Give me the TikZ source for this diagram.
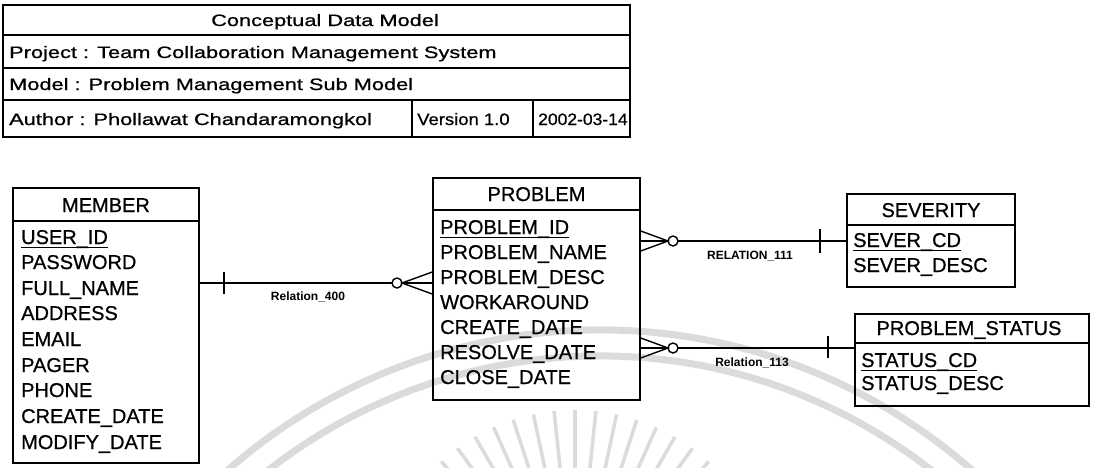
\documentclass[tikz,border=0pt]{standalone}
\usepackage{fontspec}
\setmainfont{Liberation Sans}
\newfontfamily\scanfont{Liberation Sans}[FakeBold=0.7]
\tikzset{
  entity/.style={draw, line width=1.5pt, inner sep=0pt},
  etitle/.style={inner sep=0pt, text height=14pt, text depth=0pt, font=\scanfont\fontsize{20}{24}\selectfont},
  attr/.style={anchor=west, inner sep=0pt, text height=14pt, text depth=0pt, font=\scanfont\fontsize{20}{24}\selectfont},
  keyline/.style={line width=1.4pt},
  hdr/.style={inner sep=0pt, text height=12pt, text depth=0pt, font=\scanfont\fontsize{16.5}{20}\selectfont},
  rel/.style={line width=1.4pt},
  rellabel/.style={inner sep=0pt, font=\bfseries\fontsize{12}{14}\selectfont},
  wmark/.style={draw=black!14, line width=7pt}
}
\begin{document}
\begin{tikzpicture}[x=1pt,y=-1pt]
      \useasboundingbox (0,0) rectangle (1094,467);
      % watermark of the scan
      \begin{scope}
        \clip (0,0) rectangle (1094,467);
        \draw[wmark] (600,894) ++(210:564) arc (210:330:564);
        \draw[wmark] (600,894) ++(210:538) arc (210:330:538);
        \foreach \a in {228,234,...,312}
          \draw[wmark, line width=3.5pt] (575,610) ++(\a:200) -- ++(\a:-110);
      \end{scope}
      % title block
      \draw[line width=1.5pt] (3,5) rectangle (630,137);
      \draw[line width=1.5pt] (3,35) -- (630,35);
      \draw[line width=1.5pt] (3,68) -- (630,68);
      \draw[line width=1.5pt] (3,100) -- (630,100);
      \draw[line width=1.5pt] (412,100) -- (412,137);
      \draw[line width=1.5pt] (533,100) -- (533,137);
      \node[hdr] (cdm) at (325,20) {\scalebox{1.32}[1]{Conceptual Data Model}};
      \node[hdr, anchor=west] (project) at (9,52) {\scalebox{1.32}[1]{Project : Team Collaboration Management System}};
      \node[hdr, anchor=west] (model) at (9,84) {\scalebox{1.32}[1]{Model : Problem Management Sub Model}};
      \node[hdr, anchor=west] (author) at (9,119) {\scalebox{1.32}[1]{Author : Phollawat Chandaramongkol}};
      \node[hdr, anchor=west] (version) at (417,119) {\scalebox{1.12}[1]{Version 1.0}};
      \node[hdr, anchor=west] (date) at (538,119) {\scalebox{1.06}[1]{2002-03-14}};
      % MEMBER
      \node[entity, minimum width=186pt, minimum height=275pt] (member) at (106,325.5) {};
      \draw[line width=1.5pt] (member.west |- 0,221) -- (member.east |- 0,221);
      \node[etitle] (membername) at (106,205) {MEMBER};
      \node[attr] (userid) at (21,237) {USER\_ID};
      \draw[keyline] ([yshift=-3pt]userid.south west) -- ([yshift=-3pt]userid.south east);
      \node[attr] (password) at (21,262) {PASSWORD};
      \node[attr] (fullname) at (21,288) {FULL\_NAME};
      \node[attr] (address) at (21,313) {ADDRESS};
      \node[attr] (email) at (21,339) {EMAIL};
      \node[attr] (pager) at (21,365) {PAGER};
      \node[attr] (phone) at (21,390) {PHONE};
      \node[attr] (mcreate) at (21,416) {CREATE\_DATE};
      \node[attr] (modify) at (21,442) {MODIFY\_DATE};
      % PROBLEM
      \node[entity, minimum width=207pt, minimum height=222pt] (problem) at (536.5,289) {};
      \draw[line width=1.5pt] (problem.west |- 0,210) -- (problem.east |- 0,210);
      \node[etitle] (problemname) at (536.5,194) {PROBLEM};
      \node[attr] (problemid) at (440,227) {PROBLEM\_ID};
      \draw[keyline] ([yshift=-3pt]problemid.south west) -- ([yshift=-3pt]problemid.south east);
      \node[attr] (pname) at (440,252) {PROBLEM\_NAME};
      \node[attr] (pdesc) at (440,277) {PROBLEM\_DESC};
      \node[attr] (workaround) at (440,302) {WORKAROUND};
      \node[attr] (pcreate) at (440,327) {CREATE\_DATE};
      \node[attr] (resolve) at (440,352) {RESOLVE\_DATE};
      \node[attr] (close) at (440,377) {CLOSE\_DATE};
      % SEVERITY
      \node[entity, minimum width=168pt, minimum height=93pt] (severity) at (931,240.5) {};
      \draw[line width=1.5pt] (severity.west |- 0,225) -- (severity.east |- 0,225);
      \node[etitle] (severityname) at (931,210) {SEVERITY};
      \node[attr] (severcd) at (853,240) {SEVER\_CD};
      \draw[keyline] ([yshift=-3pt]severcd.south west) -- ([yshift=-3pt]severcd.south east);
      \node[attr] (severdesc) at (853,265) {SEVER\_DESC};
      % PROBLEM_STATUS
      \node[entity, minimum width=234pt, minimum height=92pt] (pstatus) at (972,360) {};
      \draw[line width=1.5pt] (pstatus.west |- 0,343) -- (pstatus.east |- 0,343);
      \node[etitle] (pstatusname) at (969,328) {PROBLEM\_STATUS};
      \node[attr] (statuscd) at (861,360) {STATUS\_CD};
      \draw[keyline] ([yshift=-3pt]statuscd.south west) -- ([yshift=-3pt]statuscd.south east);
      \node[attr] (statusdesc) at (861,383) {STATUS\_DESC};
      % Relation_400
      \draw[rel] (member.east |- 0,283) -- (problem.west |- 0,283);
      \draw[rel] (224,272) -- (224,294);
      \draw[rel, fill=white] (397,283) circle (5);
      \draw[rel] (problem.west |- 0,272) -- (402,283) -- (problem.west |- 0,294);
      \node[rellabel] (rel400) at (308,297) {Relation\_400};
      % RELATION_111
      \draw[rel] (problem.east |- 0,241) -- (severity.west |- 0,241);
      \draw[rel] (820,229) -- (820,253);
      \draw[rel, fill=white] (673,241) circle (5);
      \draw[rel] (problem.east |- 0,231) -- (668,241) -- (problem.east |- 0,251);
      \node[rellabel] (rel111) at (750,256) {RELATION\_111};
      % Relation_113
      \draw[rel] (problem.east |- 0,348) -- (pstatus.west |- 0,348);
      \draw[rel] (828,336) -- (828,358);
      \draw[rel, fill=white] (673,348) circle (5);
      \draw[rel] (problem.east |- 0,338) -- (668,348) -- (problem.east |- 0,358);
      \node[rellabel] (rel113) at (752,363) {Relation\_113};
\end{tikzpicture}
\end{document}
